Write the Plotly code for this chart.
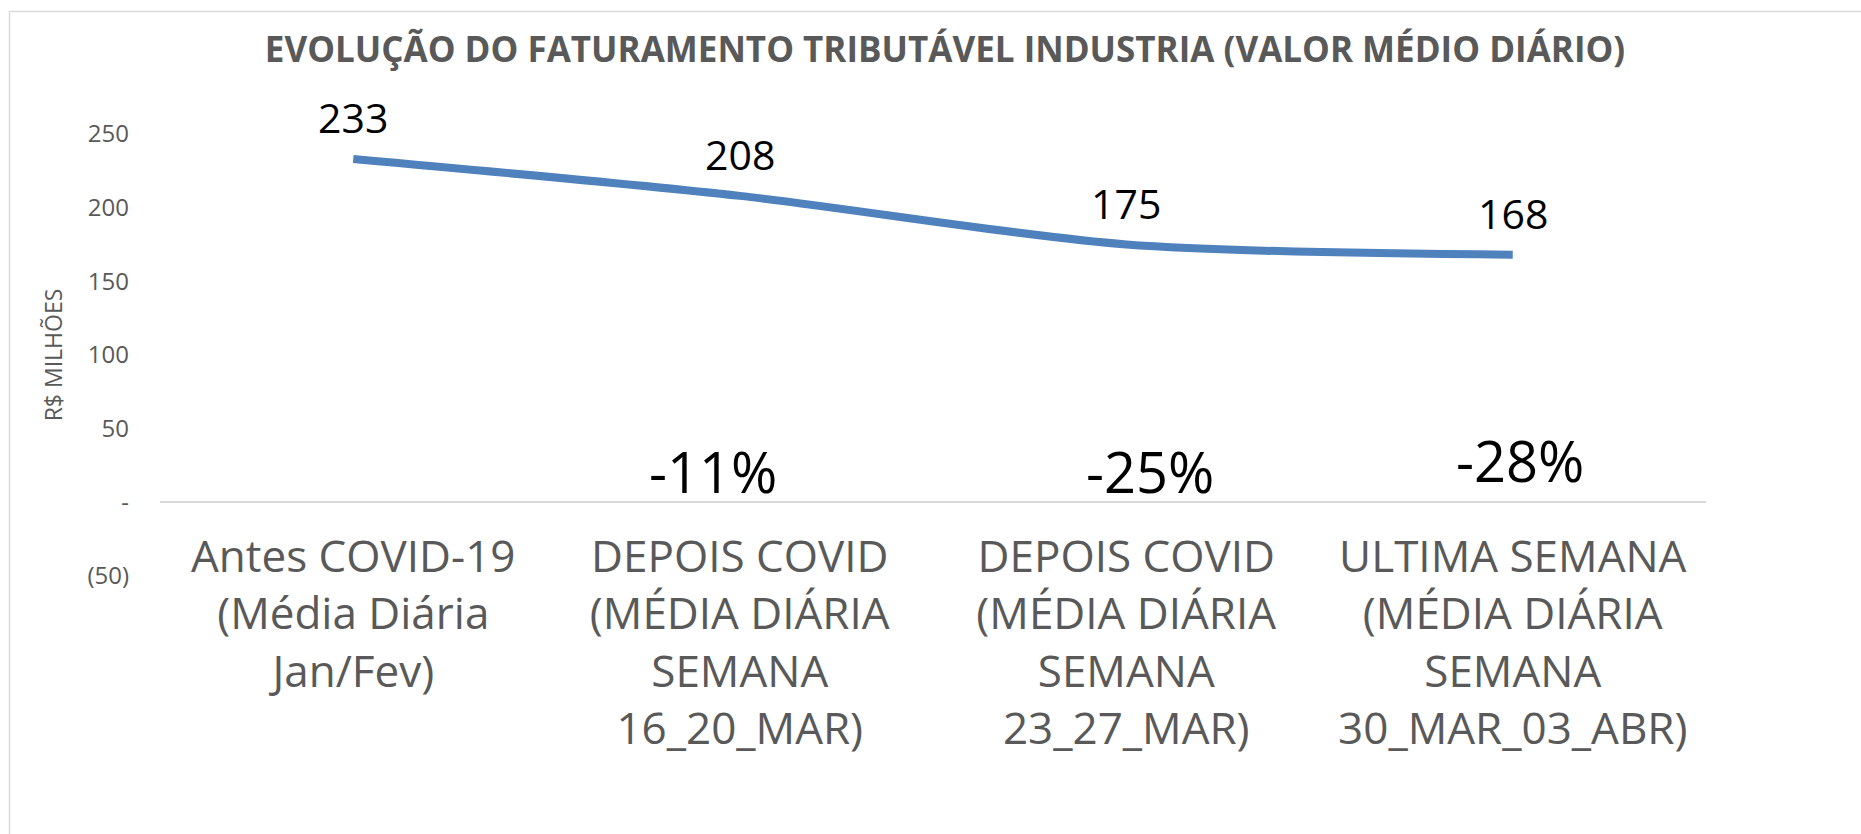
import plotly.graph_objects as go

# ---- data ----
categories = [
    "Antes COVID-19<br>(Média Diária<br>Jan/Fev)",
    "DEPOIS COVID<br>(MÉDIA DIÁRIA<br>SEMANA<br>16_20_MAR)",
    "DEPOIS COVID<br>(MÉDIA DIÁRIA<br>SEMANA<br>23_27_MAR)",
    "ULTIMA SEMANA<br>(MÉDIA DIÁRIA<br>SEMANA<br>30_MAR_03_ABR)",
]
values = [233, 208, 175, 168]
pct_labels = ["-11%", "-25%", "-28%"]          # change vs. first value
pct_label_y = [21, 21, 28.5]                    # where the % labels sit (axis units)
y_tickvals = [-50, 0, 50, 100, 150, 200, 250]
y_ticktext = ["(50)", "-", "50", "100", "150", "200", "250"]
y_range = [-50, 250]

title_text = "EVOLUÇÃO DO FATURAMENTO TRIBUTÁVEL INDUSTRIA (VALOR MÉDIO DIÁRIO)"
y_title = "R$ MILHÕES"

# ---- style ----
FONT = "Open Sans"
GRAY = "#595959"
LINE_COLOR = "#4F81BD"
W, H = 1861, 834
ML, MR, MT, MB = 160, 155, 134, 258
pct_xshift = [-27, 24, 7]

fig = go.Figure()
fig.add_trace(go.Scatter(
    x=categories, y=values, mode="lines",
    line=dict(color=LINE_COLOR, width=8, shape="spline", smoothing=0.8),
    hoverinfo="x+y", showlegend=False,
))

annotations = []
for c, v in zip(categories, values):
    annotations.append(dict(
        x=c, y=v, xref="x", yref="y", text=str(v), showarrow=False,
        yshift=42, yanchor="middle",
        font=dict(family=FONT, size=41, color="black"),
    ))
for c, t, py, dx in zip(categories[1:], pct_labels, pct_label_y, pct_xshift):
    annotations.append(dict(
        x=c, y=py, xref="x", yref="y", text=t, showarrow=False,
        xshift=dx, yanchor="middle",
        font=dict(family=FONT, size=56, color="black"),
    ))

# chart-area border (top and left edges visible, rest cropped)
pw, ph = W - ML - MR, H - MT - MB
def px_to_paper_x(px):
    return (px - ML) / pw
def px_to_paper_y(py):
    return (H - MB - py) / ph

fig.update_layout(
    width=W, height=H,
    margin=dict(l=ML, r=MR, t=MT, b=MB),
    paper_bgcolor="white", plot_bgcolor="white",
    title=dict(
        text="<b>" + title_text + "</b>",
        x=945 / W, xref="container", xanchor="center",
        y=1 - 50 / H, yref="container", yanchor="middle",
        font=dict(family=FONT, size=35, color=GRAY),
    ),
    annotations=annotations,
    shapes=[dict(
        type="rect", xref="paper", yref="paper",
        x0=px_to_paper_x(9.5), x1=px_to_paper_x(W + 20),
        y0=px_to_paper_y(H + 20), y1=px_to_paper_y(11.5),
        line=dict(color="#D9D9D9", width=1.5), layer="below",
    )],
    xaxis=dict(
        type="category", range=[-0.5, len(categories) - 0.5],
        anchor="free",
        position=(0 - y_range[0]) / (y_range[1] - y_range[0]),
        showline=True, linecolor="#D9D9D9", linewidth=2,
        showgrid=False, zeroline=False, ticks="",
        tickfont=dict(family=FONT, size=44, color=GRAY),
        ticklabelstandoff=16,
    ),
    yaxis=dict(
        range=y_range, tickvals=y_tickvals, ticktext=y_ticktext,
        showgrid=False, zeroline=False, showline=False, ticks="",
        tickfont=dict(family=FONT, size=24, color=GRAY),
        ticklabelstandoff=30,
        title=dict(text=y_title, font=dict(family=FONT, size=23, color=GRAY),
                   standoff=18),
    ),
)

fig.write_html("out.html", config={"displayModeBar": False},
               post_script="document.body.style.margin='0';")
